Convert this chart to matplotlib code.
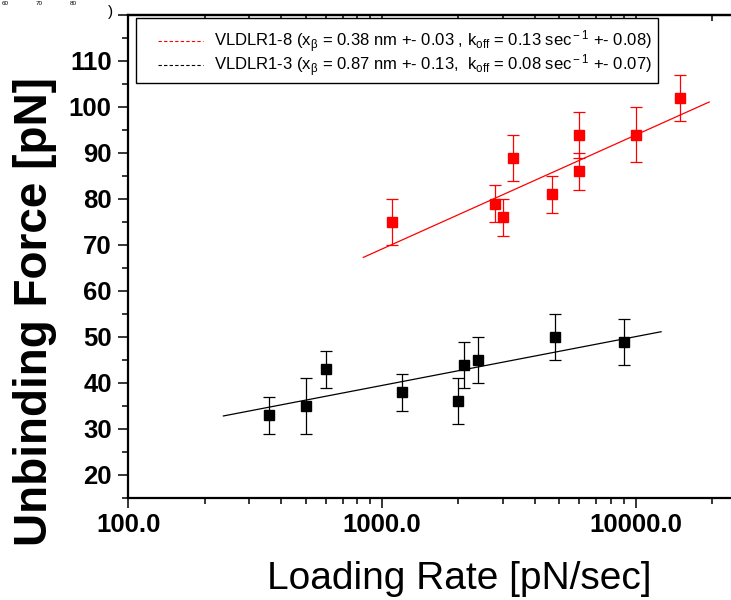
import numpy as np
import matplotlib
matplotlib.use('Agg')
import matplotlib.pyplot as plt
from matplotlib.lines import Line2D
from matplotlib.legend_handler import HandlerLine2D
from matplotlib.ticker import FixedLocator, LogLocator, NullFormatter, FixedFormatter

# ---------------- data ----------------
rate_r8 = [1100, 2800, 3000, 3300, 4700, 6000, 6000, 10000, 15000]
force_r8 = [75, 79, 76, 89, 81, 94, 86, 94, 102]
err_r8 = [5, 4, 4, 5, 4, 5, 4, 6, 5]

rate_r3 = [360, 500, 600, 1200, 2000, 2100, 2400, 4800, 9000]
force_r3 = [33, 35, 43, 38, 36, 44, 45, 50, 49]
err_r3 = [4, 6, 4, 4, 5, 5, 5, 5, 5]

# fitted lines: force = a + b * log10(rate), drawn over the given rate range
fit_r8_range = [844, 19500]
fit_r8_coef = [-5.18, 24.77]
fit_r3_range = [237, 12600]
fit_r3_coef = [7.64, 10.61]

legend_labels = [
    r'VLDLR1-8 (x$_{\beta}$ = 0.38 nm +- 0.03 , k$_{\rm off}$ = 0.13 sec$^{\rm -1}$ +- 0.08)',
    r'VLDLR1-3 (x$_{\beta}$ = 0.87 nm +- 0.13,  k$_{\rm off}$ = 0.08 sec$^{\rm -1}$ +- 0.07)',
]
x_ticks = [100, 1000, 10000]
x_tick_labels = ['100.0', '1000.0', '10000.0']
y_ticks = [20, 30, 40, 50, 60, 70, 80, 90, 100, 110, 120]
y_tick_labels = ['20', '30', '40', '50', '60', '70', '80', '90', '100', '110', '']
y_minor = [15, 25, 35, 45, 55, 65, 75, 85, 95, 105, 115]

# ---------------- style ----------------
plt.rcParams['font.family'] = ['Liberation Sans', 'DejaVu Sans']
plt.rcParams['mathtext.fontset'] = 'custom'
plt.rcParams['mathtext.rm'] = 'Liberation Sans'
plt.rcParams['mathtext.it'] = 'Liberation Sans'
plt.rcParams['mathtext.bf'] = 'Liberation Sans:bold'
plt.rcParams['mathtext.default'] = 'regular'

W, H = 731, 600
fig = plt.figure(figsize=(W / 100, H / 100), dpi=100)

left_px, right_px = 128.4, 128.4 + 3 * 253.6
top_px, bottom_px = 15.0, 498.0
ax = fig.add_axes([left_px / W, 1 - bottom_px / H,
                   (right_px - left_px) / W, (bottom_px - top_px) / H])

ax.set_xscale('log')
ax.set_xlim(100, 100000)
ax.set_ylim(15, 120)

# data
ax.errorbar(rate_r8, force_r8, yerr=err_r8, fmt='s', color='#ff0000',
            markersize=7, elinewidth=0.9, capsize=4.5, capthick=0.9, zorder=3)
ax.errorbar(rate_r3, force_r3, yerr=err_r3, fmt='s', color='black',
            markersize=7, elinewidth=0.9, capsize=4.5, capthick=0.9, zorder=3)

xf8 = np.array(fit_r8_range, dtype=float)
ax.plot(xf8, fit_r8_coef[0] + fit_r8_coef[1] * np.log10(xf8), color='#ff0000', lw=0.9)
xf3 = np.array(fit_r3_range, dtype=float)
ax.plot(xf3, fit_r3_coef[0] + fit_r3_coef[1] * np.log10(xf3), color='black', lw=0.9)

# spines
for s in ['left', 'bottom', 'top']:
    ax.spines[s].set_linewidth(1.6)
ax.spines['right'].set_visible(False)

# ticks
ax.xaxis.set_major_locator(FixedLocator(x_ticks))
ax.xaxis.set_major_formatter(FixedFormatter(x_tick_labels))
ax.xaxis.set_minor_locator(LogLocator(base=10, subs=np.arange(2, 10), numticks=20))
ax.xaxis.set_minor_formatter(NullFormatter())
ax.yaxis.set_major_locator(FixedLocator(y_ticks))
ax.yaxis.set_major_formatter(FixedFormatter(y_tick_labels))
ax.yaxis.set_minor_locator(FixedLocator(y_minor))

ax.tick_params(axis='both', which='major', direction='out', length=7.5, width=1.1,
               labelsize=18.5, pad=4.5)
ax.tick_params(axis='both', which='minor', direction='out', length=4, width=1.1)
ax.tick_params(axis='x', which='major', pad=3)
for lab in ax.get_xticklabels() + ax.get_yticklabels():
    lab.set_fontweight('bold')

sec = ax.secondary_xaxis('top', functions=(lambda v: v, lambda v: v))
sec.set_xscale('log')
sec.xaxis.set_major_locator(FixedLocator([100, 1000, 10000, 100000]))
sec.xaxis.set_minor_locator(LogLocator(base=10, subs=np.arange(2, 10), numticks=20))
sec.xaxis.set_major_formatter(NullFormatter())
sec.xaxis.set_minor_formatter(NullFormatter())
sec.tick_params(which='major', direction='in', length=6, width=1.1)
sec.tick_params(which='minor', direction='in', length=4, width=1.1)
sec.spines['top'].set_linewidth(1.6)

# axis labels
ax.set_xlabel('Loading Rate [pN/sec]', fontsize=28)
ax.xaxis.set_label_coords(459 / W, 1 - 579 / H, transform=fig.transFigure)
ax.xaxis.label.set_va('center')
ax.set_ylabel('Unbinding Force [pN]', fontsize=33, fontweight='bold')
ax.yaxis.set_label_coords(35 / W, 1 - 312 / H, transform=fig.transFigure)
ax.yaxis.label.set_va('center')


# legend (dashed sample lines, right-aligned in the handle box, nudged down)
class RightLine(HandlerLine2D):
    seg = 2.7
    dy = -2.5  # points

    def get_xdata(self, legend, xdescent, ydescent, width, height, fontsize):
        x1 = -xdescent + width
        x0 = x1 - self.seg * fontsize
        xd = np.array([x0, x1])
        return xd, xd

    def create_artists(self, legend, orig_handle, xdescent, ydescent,
                       width, height, fontsize, trans):
        arts = super().create_artists(legend, orig_handle, xdescent, ydescent,
                                      width, height, fontsize, trans)
        for a in arts:
            a.set_ydata(np.asarray(a.get_ydata(), dtype=float) + self.dy)
        return arts


handles = [Line2D([], [], color='#ff0000', lw=0.8, linestyle=(0, (3, 2))),
           Line2D([], [], color='black', lw=0.8, linestyle=(0, (3, 2)))]
leg = ax.legend(handles, legend_labels, loc='upper left',
                bbox_to_anchor=(136 / W, 1 - 18.3 / H), bbox_transform=fig.transFigure,
                borderaxespad=0, fontsize=12, frameon=True, fancybox=False,
                framealpha=1, edgecolor='black', borderpad=0.4,
                handlelength=3.62, handletextpad=0.65, labelspacing=-0.12,
                handler_map={Line2D: RightLine()})
leg.get_frame().set_linewidth(1.0)
for t in leg.get_texts():
    t.set_y(-3.5)

# small fragments at the top-left edge of the source image
for xp, txt in [(5, '60'), (39, '70'), (73, '80')]:
    fig.text(xp / W, 1 - 5 / H, txt, fontsize=4.5, ha='center', va='baseline')
fig.text(110 / W, 1 - 16 / H, ')', fontsize=11, ha='center', va='baseline')

fig.savefig('out.png', dpi=100)
